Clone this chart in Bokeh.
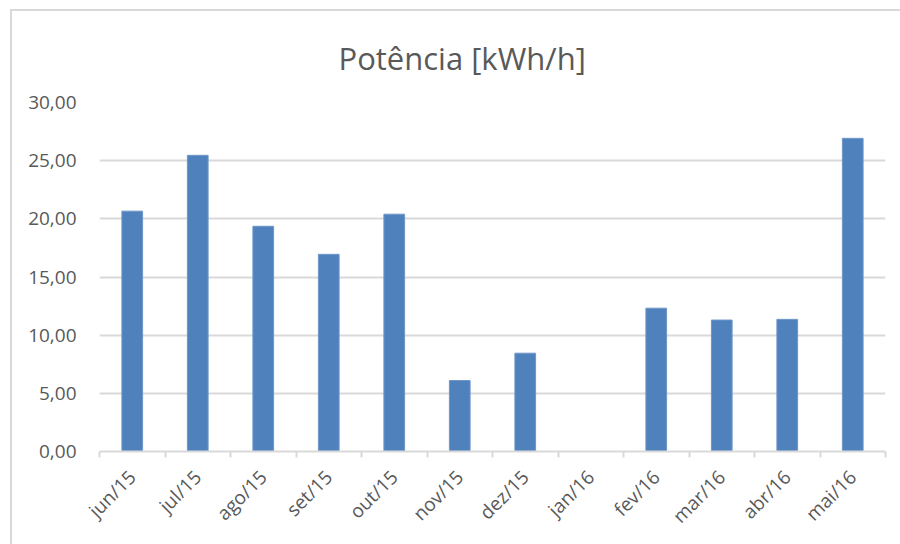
import math
from bokeh.plotting import figure
from bokeh.models import Range1d, FixedTicker, ColumnDataSource
from bokeh.embed import file_html
from bokeh.resources import INLINE

# ---- data ----
months = ["jun/15", "jul/15", "ago/15", "set/15", "out/15", "nov/15",
          "dez/15", "jan/16", "fev/16", "mar/16", "abr/16", "mai/16"]
potencia = [20.66, 25.46, 19.36, 16.95, 20.40, 6.10,
            8.45, 0.0, 12.32, 11.30, 11.36, 26.92]
y_ticks = [0, 5, 10, 15, 20, 25, 30]
y_tick_labels = ["0,00", "5,00", "10,00", "15,00", "20,00", "25,00", "30,00"]
title_text = "Potência [kWh/h]"

FONT = "Open Sans"
TXT = "#595959"
GRID = "#d9d9d9"

n = len(months)
centers = [i + 0.5 for i in range(n)]
src = ColumnDataSource(dict(x=centers, top=potencia, m=months))

p = figure(width=890, height=535, output_backend="svg", toolbar_location=None,
           x_range=Range1d(0, n), y_range=Range1d(0, y_ticks[-1]),
           min_border_left=87, min_border_right=17, min_border_top=91,
           min_border_bottom=95, title=title_text,
           margin=(9, 0, 0, 10),
           styles={"border-left": "2px solid #d9d9d9",
                   "border-top": "2px solid #d9d9d9"})

p.vbar(x="x", top="top", width=0.316, source=src,
       fill_color="#4F81BD", line_color="#6E96C8", line_width=1)

# title
p.title.text_font = FONT
p.title.text_font_size = "31px"
p.title.text_font_style = "normal"
p.title.text_color = TXT
p.title.align = "left"
p.title.offset = 239
p.title.standoff = 47

# y axis
p.yaxis.ticker = FixedTicker(ticks=y_ticks)
p.yaxis.major_label_overrides = {t: l for t, l in zip(y_ticks, y_tick_labels)}
p.yaxis.axis_line_color = None
p.yaxis.major_tick_line_color = None
p.yaxis.minor_tick_line_color = None
p.yaxis.major_label_text_font = FONT
p.yaxis.major_label_text_font_size = "19px"
p.yaxis.major_label_text_color = TXT
p.yaxis.major_label_standoff = 17

# x axis: labels at centers, ticks at boundaries
p.xaxis.ticker = FixedTicker(ticks=centers, minor_ticks=list(range(n + 1)))
p.xaxis.major_label_overrides = {c: m for c, m in zip(centers, months)}
p.xaxis.axis_line_color = GRID
p.xaxis.axis_line_width = 2
p.xaxis.major_tick_line_color = None
p.xaxis.minor_tick_line_color = GRID
p.xaxis.minor_tick_line_width = 2
p.xaxis.minor_tick_in = 0
p.xaxis.minor_tick_out = 6
p.xaxis.major_label_orientation = math.pi / 4
p.xaxis.major_label_text_font = FONT
p.xaxis.major_label_text_font_size = "19px"
p.xaxis.major_label_text_color = TXT
p.xaxis.major_label_standoff = 16

p.xgrid.grid_line_color = None
p.ygrid.grid_line_color = GRID
p.ygrid.grid_line_width = 2
p.ygrid.ticker = FixedTicker(ticks=y_ticks)

p.outline_line_color = None
p.background_fill_color = "white"
p.border_fill_color = "white"

open("out.html", "w").write(file_html(p, INLINE))
